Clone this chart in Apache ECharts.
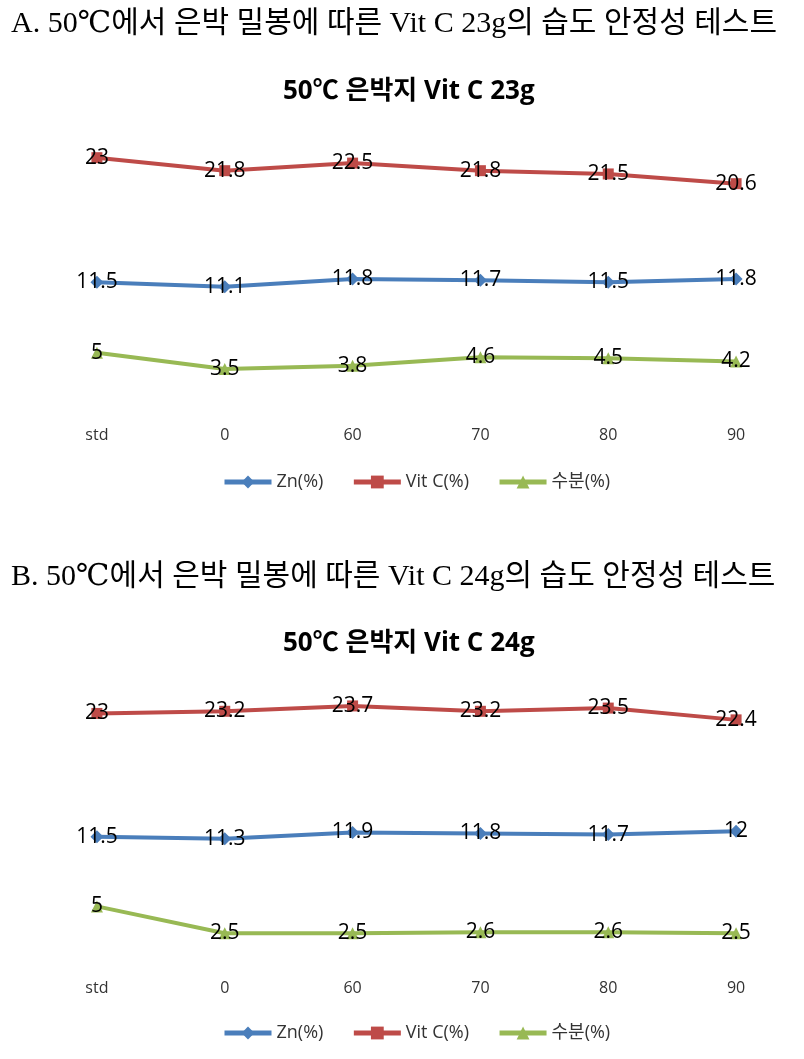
<!DOCTYPE html>
<html><head><meta charset="utf-8">
<script src="https://cdn.jsdelivr.net/npm/echarts@6/dist/echarts.min.js"></script>
<style>html,body{margin:0;padding:0;background:#fff}#c{width:804px;height:1059px}</style>
</head><body><div id="c"></div>
<script>
const categories = ['std', '0', '60', '70', '80', '90'];
const seriesNames = ['Zn(%)', 'Vit C(%)', '수분(%)'];
// Chart A: Vit C 23g
const znA = [11.5, 11.1, 11.8, 11.7, 11.5, 11.8];
const vitcA = [23, 21.8, 22.5, 21.8, 21.5, 20.6];
const waterA = [5, 3.5, 3.8, 4.6, 4.5, 4.2];
// Chart B: Vit C 24g
const znB = [11.5, 11.3, 11.9, 11.8, 11.7, 12];
const vitcB = [23, 23.2, 23.7, 23.2, 23.5, 22.4];
const waterB = [5, 2.5, 2.5, 2.6, 2.6, 2.5];

const headingA = 'A. 50℃에서 은박 밀봉에 따른 Vit C 23g의 습도 안정성 테스트';
const headingB = 'B. 50℃에서 은박 밀봉에 따른 Vit C 24g의 습도 안정성 테스트';
const titleA = '50℃ 은박지 Vit C 23g';
const titleB = '50℃ 은박지 Vit C 24g';

const colors = ['#4a7ebb', '#be4b48', '#98b954'];
const symbols = ['diamond', 'rect', 'triangle'];
const symbolSizes = [13, 11, 12];
const sans = '"Open Sans", "Noto Sans CJK KR", sans-serif';
const serif = '"Liberation Serif", "DejaVu Serif", "Noto Sans CJK KR", serif';

function mkSeries(idx, dataArr) {
  return dataArr.map((d, i) => ({
    name: seriesNames[i], type: 'line', xAxisIndex: idx, yAxisIndex: idx,
    data: d, symbol: symbols[i], symbolSize: symbolSizes[i],
    lineStyle: { color: colors[i], width: 4 },
    itemStyle: { color: colors[i] },
    label: { show: true, position: 'inside', color: '#000', fontSize: 21, fontFamily: sans },
    emphasis: { disabled: true }, animation: false
  }));
}

const grids = [
  { left: 33, right: 4, top: 136, height: 271 },
  { left: 33, right: 4, top: 692, height: 268 }
];

const legendCommon = {
  data: seriesNames, left: 222, padding: 0, itemWidth: 47, itemHeight: 16, itemGap: 28,
  lineStyle: { width: 5 },
  textStyle: { fontFamily: sans, fontSize: 18, color: '#333' }
};

const option = {
  backgroundColor: '#fff',
  color: colors,
  title: [
    { text: headingA, left: 6, top: 4, textStyle: { fontFamily: serif, fontWeight: 'normal', fontSize: 30, color: '#000' } },
    { text: titleA, left: 283, top: 79, padding: 0, textStyle: { fontFamily: sans, fontWeight: 'bold', fontSize: 26, color: '#000' } },
    { text: headingB, left: 6, top: 557, textStyle: { fontFamily: serif, fontWeight: 'normal', fontSize: 30, color: '#000' } },
    { text: titleB, left: 283, top: 631, padding: 0, textStyle: { fontFamily: sans, fontWeight: 'bold', fontSize: 26, color: '#000' } }
  ],
  legend: [
    Object.assign({ top: 473 }, legendCommon),
    Object.assign({ top: 1024 }, legendCommon)
  ],
  grid: grids,
  xAxis: [0, 1].map(i => ({
    type: 'category', gridIndex: i, data: categories, boundaryGap: true,
    axisLine: { show: false }, axisTick: { show: false },
    axisLabel: { margin: 20, fontSize: 16, color: '#333', fontFamily: sans }
  })),
  yAxis: [0, 1].map(i => ({
    type: 'value', gridIndex: i, min: 0, max: 25, show: false, splitLine: { show: false }
  })),
  series: [...mkSeries(0, [znA, vitcA, waterA]), ...mkSeries(1, [znB, vitcB, waterB])]
};

const chart = echarts.init(document.getElementById('c'));
chart.setOption(option);
</script></body></html>
